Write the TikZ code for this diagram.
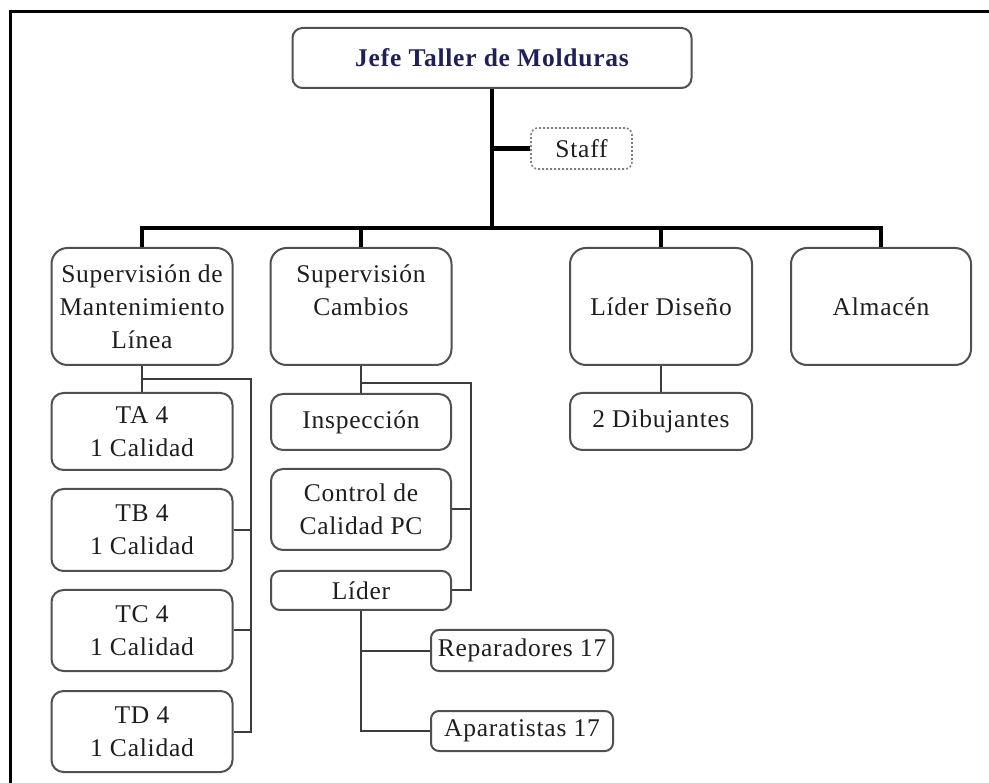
\documentclass[tikz,border=0pt]{standalone}
\usepackage{fontspec}
\setmainfont[LetterSpace=3]{Liberation Serif}
\newcommand{\boxfont}{\fontsize{25.5}{33}\selectfont}
\definecolor{boxgray}{RGB}{80,80,80}
\definecolor{txt}{RGB}{30,30,30}
\definecolor{navy}{RGB}{32,32,88}
\definecolor{linegray}{RGB}{60,60,60}
\tikzset{
  box/.style={draw=boxgray, line width=2pt, fill=white, rounded corners=12pt,
    inner sep=0pt, align=center, text=txt, font=\boxfont},
  sz/.style 2 args={minimum width=#1pt, minimum height=#2pt},
  thickline/.style={draw=black, line width=4.5pt},
  thinline/.style={draw=linegray, line width=2pt},
}
\begin{document}
\begin{tikzpicture}[x=1pt,y=-1pt]
\useasboundingbox (0,0) rectangle (989,783);
% frame
\draw[line width=3pt, line cap=rect] (10,783) -- (10,12) -- (989,12);

% nodes
\node[box, sz={399}{60}, rounded corners=10pt, text=navy, font=\boxfont\bfseries] (jefe) at (492,58) {Jefe Taller de Molduras};
\node[box, sz={101}{41}, draw=gray, dotted, line width=1.6pt, rounded corners=7pt] (staff) at (581.5,148.5) {Staff};

\node[box, sz={181}{117}, rounded corners=16pt] (smant) at (142,306.5) {Supervisión de\\Mantenimiento\\Línea};
\node[box, sz={181}{117}, rounded corners=16pt] (scamb) at (361,306.5) {Supervisión\\Cambios\\~};
\node[box, sz={182}{117}, rounded corners=16pt] (ldis) at (661,306.5) {Líder Diseño};
\node[box, sz={180}{117}, rounded corners=16pt] (alm) at (881,306.5) {Almacén};

\node[box, sz={181}{77}] (ta) at (142,431.5) {TA 4\\1 Calidad};
\node[box, sz={181}{82}] (tb) at (142,530) {TB 4\\1 Calidad};
\node[box, sz={181}{81}] (tc) at (142,630.5) {TC 4\\1 Calidad};
\node[box, sz={181}{81}] (td) at (142,731.5) {TD 4\\1 Calidad};

\node[box, sz={180}{56}] (insp) at (361,422) {Inspección};
\node[box, sz={180}{81}] (ccal) at (361,509.5) {Control de\\Calidad PC};
\node[box, sz={180}{39}, rounded corners=9pt] (lider) at (361,590.5) {Líder};

\node[box, sz={182}{57}] (dib) at (661,421.5) {2 Dibujantes};

\node[box, sz={182}{41}, rounded corners=8pt] (rep) at (522,650.5) {Reparadores 17};
\node[box, sz={182}{40}, rounded corners=8pt] (apa) at (522,731) {Aparatistas 17};

% coordinates
\coordinate (bus) at (492,228);
\coordinate (lrail) at (251,379);
\coordinate (mrail) at (471,383);

% thick connectors
\draw[thickline] (jefe.south) -- (jefe.south |- bus);
\draw[thickline] (jefe.south |- staff.west) -- (staff.west);
\draw[thickline] (smant.north) -- (smant.north |- bus) -- (alm.north |- bus) -- (alm.north);
\draw[thickline] (scamb.north) -- (scamb.north |- bus);
\draw[thickline] (ldis.north) -- (ldis.north |- bus);

% thin connectors: left column
\draw[thinline] (smant.south) -- (ta.north);
\draw[thinline] (smant.south |- lrail) -- (lrail) -- (lrail |- td.east) -- (td.east);
\draw[thinline] (tb.east) -- (lrail |- tb.east);
\draw[thinline] (tc.east) -- (lrail |- tc.east);

% thin connectors: middle column
\draw[thinline] (scamb.south) -- (insp.north);
\draw[thinline] (scamb.south |- mrail) -- (mrail) -- (mrail |- lider.east) -- (lider.east);
\draw[thinline] (ccal.east) -- (mrail |- ccal.east);

\draw[thinline] (lider.south) -- (lider.south |- apa.west) -- (apa.west);
\draw[thinline] (lider.south |- rep.west) -- (rep.west);

% right
\draw[thinline] (ldis.south) -- (dib.north);
\end{tikzpicture}
\end{document}
